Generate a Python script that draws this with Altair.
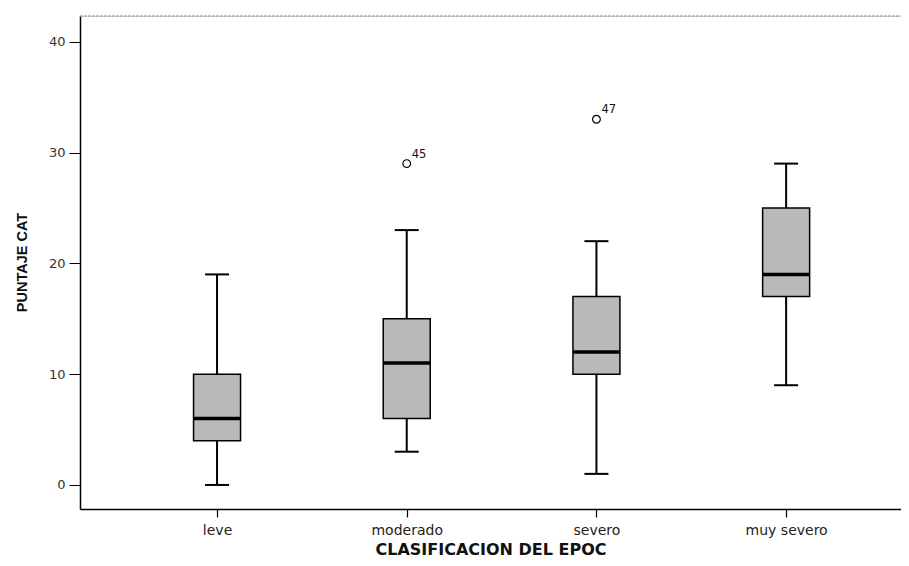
import altair as alt
import pandas as pd

categories = ["leve", "moderado", "severo", "muy severo"]
mins = [0, 3, 1, 9]
q1s = [4, 6, 10, 17]
medians = [6, 11, 12, 19]
q3s = [10, 15, 17, 25]
maxs = [19, 23, 22, 29]

outlier_cat = ["moderado", "severo"]
outlier_val = [29, 33]
outlier_id = ["45", "47"]

y_ticks = [0, 10, 20, 30, 40]

df = pd.DataFrame({"cat": categories, "min": mins, "q1": q1s, "med": medians,
                   "q3": q3s, "max": maxs})
out = pd.DataFrame({"cat": outlier_cat, "val": outlier_val, "id": outlier_id})

W, H = 821, 493
LABEL_FONT = "DejaVu Sans"

xenc = alt.X("cat:N", sort=categories,
             scale=alt.Scale(type="point", padding=0.664, align=0.544),
             axis=alt.Axis(title="CLASIFICACION DEL EPOC", labelAngle=0,
                           labelFont=LABEL_FONT, labelFontSize=14, labelColor="#222",
                           labelPadding=6, tickSize=8, tickColor="#000", tickWidth=1.2,
                           domainColor="#000", domainWidth=1.5,
                           titleFont=LABEL_FONT, titleFontSize=16, titleFontWeight="bold",
                           titleColor="#111", titleY=45, titleBaseline="alphabetic"))

yscale = alt.Scale(domain=[-2.17, 42.32], nice=False, zero=False)
yaxis = alt.Axis(title="PUNTAJE CAT", values=y_ticks, grid=False,
                 labelFont=LABEL_FONT, labelFontSize=13, labelColor="#333",
                 labelPadding=4, tickSize=11, tickColor="#000", tickWidth=1,
                 domainColor="#000", domainWidth=1.5,
                 titleFont="Liberation Sans", titleFontSize=14.5, titleFontWeight="bold",
                 titleColor="#111", titleAngle=-90, titleX=-58, titleY=246,
                 titleAlign="center", titleBaseline="middle")


def Y(field):
    return alt.Y(f"{field}:Q", scale=yscale, axis=yaxis)


base = alt.Chart(df)

whisker = base.mark_rule(color="#000", strokeWidth=2).encode(x=xenc, y=Y("min"), y2="max:Q")
caps_lo = base.mark_tick(color="#000", opacity=1, size=24, thickness=2).encode(x=xenc, y=Y("min"))
caps_hi = base.mark_tick(color="#000", opacity=1, size=24, thickness=2).encode(x=xenc, y=Y("max"))
box = base.mark_bar(size=47, color="#b9b9b9", stroke="#000", strokeWidth=1.5).encode(
    x=xenc, y=Y("q1"), y2="q3:Q")
median = base.mark_tick(color="#000", opacity=1, size=47, thickness=3.5).encode(x=xenc, y=Y("med"))

pts = alt.Chart(out).mark_point(shape="circle", filled=False, color="#000", opacity=1,
                                size=60, strokeWidth=1.2).encode(x=xenc, y=Y("val"))
lbl = alt.Chart(out).mark_text(align="left", baseline="alphabetic", dx=5, dy=-6,
                               font=LABEL_FONT, fontSize=11.5, color="#111").encode(
    x=xenc, y=Y("val"), text="id:N")

top_border = alt.Chart(pd.DataFrame({"a": [0]})).mark_rule(
    color="#888", strokeWidth=1, strokeDash=[3, 1]).encode(
    x=alt.value(0), x2=alt.value(W), y=alt.value(0))

chart = alt.layer(top_border, whisker, caps_lo, caps_hi, box, median, pts, lbl).properties(
    width=W, height=H,
    autosize=alt.AutoSizeParams(type="none"),
    padding={"left": 72, "top": 8, "right": 0, "bottom": 49},
).configure_view(stroke=None).configure(background="white")

chart.save("out.html", embed_options={"renderer": "svg", "actions": False})
